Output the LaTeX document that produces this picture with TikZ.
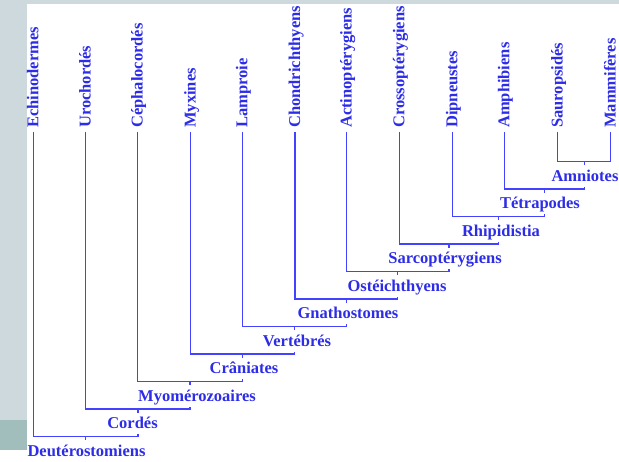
\documentclass[tikz,border=0pt]{standalone}
\usepackage{fontspec}
\setmainfont{Liberation Serif}
\usetikzlibrary{calc}
\definecolor{cblue}{HTML}{2D2DE8}
\definecolor{cline}{HTML}{4343FF}
\definecolor{cpanel}{HTML}{CED9DD}
\definecolor{cteal}{HTML}{A2BEBC}
\tikzset{
  every picture/.style={line width=1.4pt},
  leaf/.style={rotate=90, anchor=west, inner xsep=4pt, inner ysep=0pt, text height=11pt, text depth=1pt, text=cblue, font=\fontsize{16.5}{18}\selectfont\bfseries},
  clade/.style={anchor=north, inner sep=0pt, text height=15.5pt, text depth=4.5pt, text=cblue, font=\fontsize{16.5}{18}\selectfont\bfseries},
  branch/.style={draw=cline, line width=1.4pt},
}

\begin{document}
\begin{tikzpicture}[x=1pt, y=-1pt]
  % slide background
  \useasboundingbox (0,0) rectangle (619,462);
  \fill[white] (0,0) rectangle (619,462);
  \fill[cpanel] (0,0) rectangle (27,420);
  \fill[cpanel] (0,0) rectangle (619,4);
  \fill[cteal] (0,420) rectangle (27,450);

  % taxa
  \node[leaf] (echi) at (33.3,132.5) {Echinodermes};
  \node[leaf] (uroc) at (85.7,132.5) {Urochordés};
  \node[leaf] (ceph) at (137.7,132.5) {Céphalocordés};
  \node[leaf] (myxi) at (190.7,132.5) {Myxines};
  \node[leaf] (lamp) at (242.3,132.5) {Lamproie};
  \node[leaf] (chon) at (295,132.5) {Chondrichthyens};
  \node[leaf] (acti) at (346.7,132.5) {Actinoptérygiens};
  \node[leaf] (cros) at (399.3,132.5) {Crossoptérygiens};
  \node[leaf] (dipn) at (452.3,132.5) {Dipneustes};
  \node[leaf] (amph) at (504.3,132.5) {Amphibiens};
  \node[leaf] (saur) at (557.7,132.5) {Sauropsidés};
  \node[leaf] (mamm) at (610.7,132.5) {Mammifères};

  % joints
  \coordinate (amnJ) at (584.2,161.7);
  \coordinate (tetJ) at (544.3,189.2);
  \coordinate (rhiJ) at (498.3,216.7);
  \coordinate (sarJ) at (448.8,244.2);
  \coordinate (ostJ) at (397.7,271.7);
  \coordinate (gnaJ) at (346.4,299.2);
  \coordinate (verJ) at (294.3,326.7);
  \coordinate (craJ) at (242.5,354.2);
  \coordinate (myoJ) at (190.1,381.7);
  \coordinate (corJ) at (137.9,409.2);
  \coordinate (deuJ) at (85.6,436.7);
  \coordinate (root) at (85.6,462);

  % clades
  \node[clade] (amn) at (585,165.2) {Amniotes};
  \node[clade] (tet) at (540,192.7) {Tétrapodes};
  \node[clade] (rhi) at (501,220.2) {Rhipidistia};
  \node[clade] (sar) at (445,247.7) {Sarcoptérygiens};
  \node[clade] (ost) at (397,275.2) {Ostéichthyens};
  \node[clade] (gna) at (348,302.7) {Gnathostomes};
  \node[clade] (ver) at (297,330.2) {Vertébrés};
  \node[clade] (cra) at (244,357.7) {Crâniates};
  \node[clade] (myo) at (197,385.2) {Myomérozoaires};
  \node[clade] (cor) at (132.5,412.7) {Cordés};
  \node[clade] (deu) at (86.5,440.2) {Deutérostomiens};

  % branches
  \draw[branch] (saur.west) |- (amnJ) -| (mamm.west);
  \draw[branch] (amnJ) -- (amnJ |- amn.north);
  \draw[branch] (amph.west) |- (tetJ) -| (amnJ |- amn.south);
  \draw[branch] (tetJ) -- (tetJ |- tet.north);
  \draw[branch] (dipn.west) |- (rhiJ) -| (tetJ |- tet.south);
  \draw[branch] (rhiJ) -- (rhiJ |- rhi.north);
  \draw[branch] (cros.west) |- (sarJ) -| (rhiJ |- rhi.south);
  \draw[branch] (sarJ) -- (sarJ |- sar.north);
  \draw[branch] (acti.west) |- (ostJ) -| (sarJ |- sar.south);
  \draw[branch] (ostJ) -- (ostJ |- ost.north);
  \draw[branch] (chon.west) |- (gnaJ) -| (ostJ |- ost.south);
  \draw[branch] (gnaJ) -- (gnaJ |- gna.north);
  \draw[branch] (lamp.west) |- (verJ) -| (gnaJ |- gna.south);
  \draw[branch] (verJ) -- (verJ |- ver.north);
  \draw[branch] (myxi.west) |- (craJ) -| (verJ |- ver.south);
  \draw[branch] (craJ) -- (craJ |- cra.north);
  \draw[branch] (ceph.west) |- (myoJ) -| (craJ |- cra.south);
  \draw[branch] (myoJ) -- (myoJ |- myo.north);
  \draw[branch] (uroc.west) |- (corJ) -| (myoJ |- myo.south);
  \draw[branch] (corJ) -- (corJ |- cor.north);
  \draw[branch] (echi.west) |- (deuJ) -| (corJ |- cor.south);
  \draw[branch] (deuJ) -- (deuJ |- deu.north);
  \draw[branch] (deuJ |- deu.south) -- (root);
\end{tikzpicture}
\end{document}
